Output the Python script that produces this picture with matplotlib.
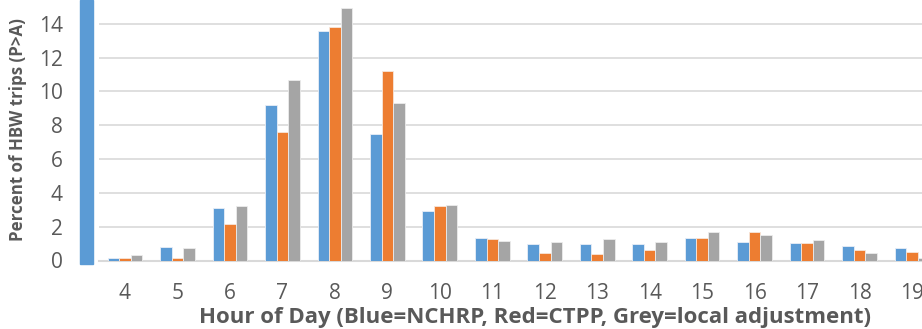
import matplotlib.pyplot as plt
import numpy as np
from matplotlib.patches import Rectangle

# hours of day shown on the x axis
hours = [4, 5, 6, 7, 8, 9, 10, 11, 12, 13, 14, 15, 16, 17, 18, 19]
# percent of HBW trips (P>A)
nchrp = [0.15, 0.8, 3.1, 9.2, 13.55, 7.5, 2.95, 1.35, 0.95, 1.0, 1.0, 1.34, 1.12, 1.02, 0.85, 0.75]
ctpp = [0.15, 0.15, 2.15, 7.6, 13.8, 11.2, 3.2, 1.25, 0.45, 0.4, 0.63, 1.34, 1.66, 1.02, 0.61, 0.51]
local_adj = [0.35, 0.75, 3.25, 10.7, 14.9, 9.3, 3.3, 1.15, 1.1, 1.3, 1.07, 1.66, 1.48, 1.22, 0.45, 0.16]

plt.rcParams['font.family'] = ['Open Sans', 'DejaVu Sans']
text_color = '#595959'

fig = plt.figure(figsize=(9.22, 3.29), dpi=100)
ax = fig.add_axes([98.75 / 922, 68.5 / 329, 1 - 98.75 / 922, 1 - 68.5 / 329])

x = np.array(hours, dtype=float)
w = 0.22
ax.bar(x - w, nchrp, w, color='#5b9bd5', edgecolor='#e8eef7', linewidth=0.6, zorder=3)
ax.bar(x, ctpp, w, color='#ed7d31', edgecolor='#f7e6da', linewidth=0.6, zorder=3)
ax.bar(x + w, local_adj, w, color='#a5a5a5', edgecolor='#ececec', linewidth=0.6, zorder=3)

ax.set_xlim(3.5, 19.19)
ax.set_ylim(0, 15.4)
ax.set_xticks(hours)
ax.set_yticks(range(0, 15, 2))
ax.yaxis.grid(True, color='#d9d9d9', linewidth=1.2, zorder=0)
for s in ['top', 'right', 'left']:
    ax.spines[s].set_visible(False)
ax.spines['bottom'].set_color('#d9d9d9')
ax.spines['bottom'].set_linewidth(1.5)
ax.tick_params(axis='both', length=0, labelsize=15, colors=text_color)
ax.tick_params(axis='x', pad=16)
ax.tick_params(axis='y', pad=26)

fig.text(535 / 922, 1 - 318 / 329, 'Hour of Day (Blue=NCHRP, Red=CTPP, Grey=local adjustment)',
         ha='center', va='center', fontsize=16, fontweight='bold', color=text_color)
fig.text(18 / 922, 1 - 130 / 329, 'Percent of HBW trips (P>A)', rotation=90,
         ha='center', va='center', fontsize=12.2, fontweight='bold', color=text_color)

# blue strip at the left edge of the screenshot
fig.patches.append(Rectangle((80 / 922, 1 - 264 / 329), 13 / 922, 264 / 329,
                             transform=fig.transFigure, color='#5b9bd5', zorder=5))

fig.savefig('out.png', dpi=100)
